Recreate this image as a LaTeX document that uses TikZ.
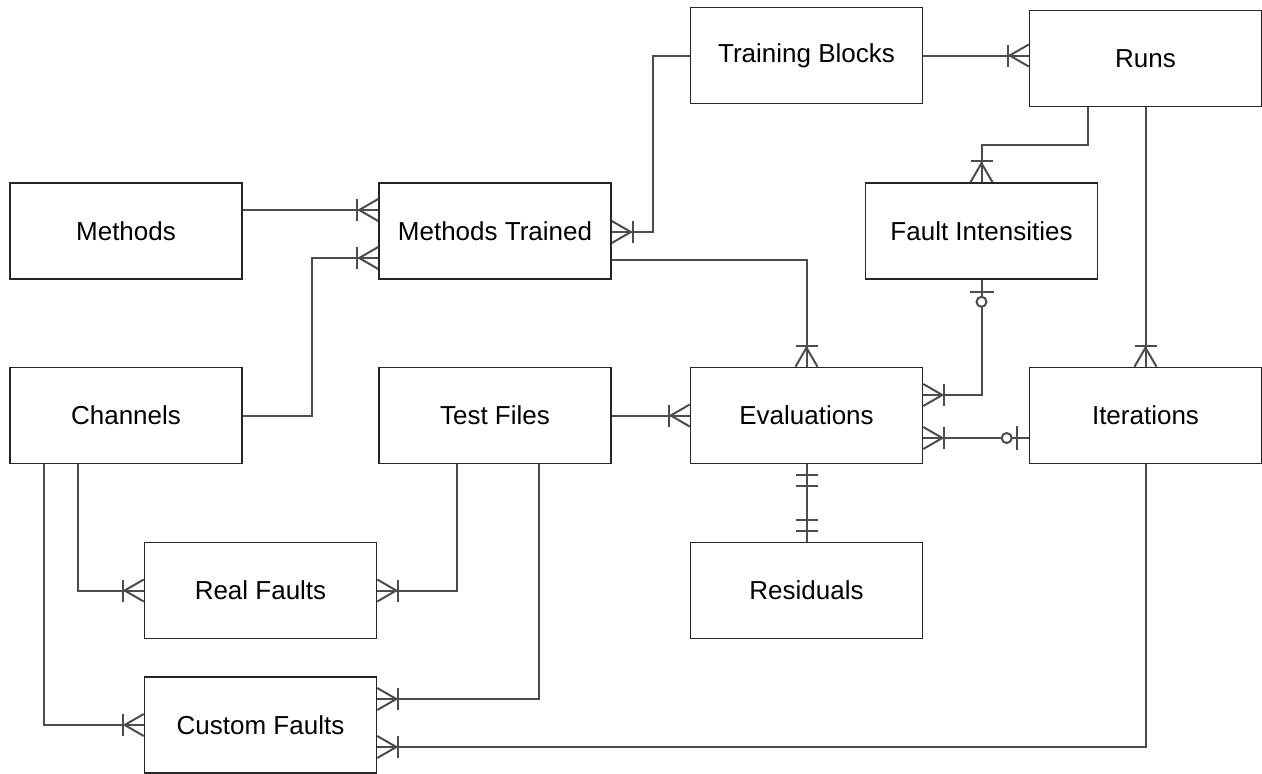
\documentclass[tikz,border=0pt]{standalone}
\usepackage{fontspec}
\setmainfont{Liberation Sans}
\begin{document}
\begin{tikzpicture}[x=1pt,y=-1pt,
  box/.style={draw=black!85, line width=1.6, minimum width=232, minimum height=96, inner sep=0pt, font=\fontsize{26}{30}\selectfont},
  conn/.style={draw=black!70, line width=2},
  crow/.pic={\draw[conn] (0,-11)--(19,0)--(0,11); \draw[conn] (21,-11)--(21,11);},
  zo/.pic={\draw[conn] (12,-12)--(12,12); \draw[conn, fill=white] (22,0) circle (5);},
  one/.pic={\draw[conn] (11,-11)--(11,11); \draw[conn] (22,-11)--(22,11);}]
\useasboundingbox (0,0) rectangle (1262,774);
\node[box] (tb) at (806.5,55.5) {Training Blocks};
\node[box] (runs) at (1145.5,58.5) {Runs};
\node[box] (methods) at (126,231) {Methods};
\node[box] (mt) at (495,231) {Methods Trained};
\node[box] (fi) at (981.5,231) {Fault Intensities};
\node[box] (ch) at (126,415.5) {Channels};
\node[box] (tf) at (495,415.5) {Test Files};
\node[box] (ev) at (806.5,415.5) {Evaluations};
\node[box] (it) at (1145.5,415.5) {Iterations};
\node[box] (rf) at (260.5,590.5) {Real Faults};
\node[box] (res) at (806.5,590.5) {Residuals};
\node[box] (cf) at (260.5,725) {Custom Faults};
% connectors
\draw[conn] (methods.east |- 0,210) -- (mt.west |- 0,210);
\pic[rotate=180] at (mt.west |- 0,210) {crow};
\draw[conn] (ch.east) -- ++(69,0) |- (mt.west |- 0,258);
\pic[rotate=180] at (mt.west |- 0,258) {crow};
\draw[conn] (mt.east |- 0,232) -- ++(41,0) |- (tb.west);
\pic at (mt.east |- 0,232) {crow};
\draw[conn] (tb.east) -- (runs.west |- tb.east);
\pic[rotate=180] at (runs.west |- tb.east) {crow};
\draw[conn] (runs.south -| 1088,0) -- ++(0,38) -| (fi.north);
\pic[rotate=90] at (fi.north) {crow};
\draw[conn] (runs.south) -- (it.north);
\pic[rotate=90] at (it.north) {crow};
\draw[conn] (mt.east |- 0,260) -| (ev.north);
\pic[rotate=90] at (ev.north) {crow};
\draw[conn] (fi.south) |- (ev.east |- 0,395);
\pic[rotate=-90] at (fi.south) {zo};
\pic at (ev.east |- 0,395) {crow};
\draw[conn] (ev.east |- 0,438) -- (it.west |- 0,438);
\pic at (ev.east |- 0,438) {crow};
\pic[rotate=180] at (it.west |- 0,438) {zo};
\draw[conn] (tf.east) -- (ev.west);
\pic[rotate=180] at (ev.west) {crow};
\draw[conn] (ev.south) -- (res.north);
\pic[rotate=-90] at (ev.south) {one};
\pic[rotate=90] at (res.north) {one};
\draw[conn] (ch.south -| 78,0) |- (rf.west);
\pic[rotate=180] at (rf.west) {crow};
\draw[conn] (tf.south -| 457,0) |- (rf.east);
\pic at (rf.east) {crow};
\draw[conn] (ch.south -| 44,0) |- (cf.west);
\pic[rotate=180] at (cf.west) {crow};
\draw[conn] (tf.south -| 539,0) |- (cf.east |- 0,699);
\pic at (cf.east |- 0,699) {crow};
\draw[conn] (it.south) |- (cf.east |- 0,747);
\pic at (cf.east |- 0,747) {crow};
\end{tikzpicture}
\end{document}
